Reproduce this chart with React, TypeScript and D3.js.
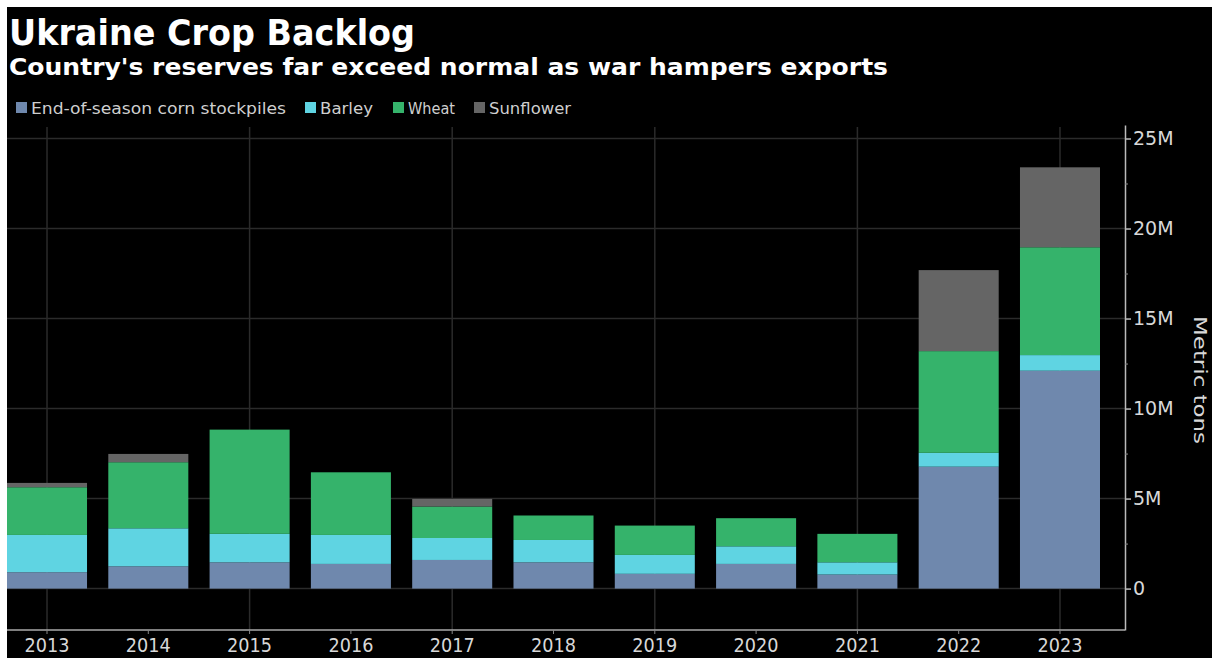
import React, { useEffect, useRef } from 'react';
import * as d3 from 'd3';

const years = ['2013', '2014', '2015', '2016', '2017', '2018', '2019', '2020', '2021', '2022', '2023'];
const corn = [0.91, 1.24, 1.46, 1.37, 1.59, 1.46, 0.82, 1.37, 0.78, 6.77, 12.1];
const barley = [2.07, 2.11, 1.58, 1.61, 1.22, 1.24, 1.05, 0.98, 0.68, 0.77, 0.87];
const wheat = [2.65, 3.67, 5.79, 3.48, 1.75, 1.36, 1.63, 1.56, 1.58, 5.65, 5.99];
const sunflower = [0.24, 0.46, 0, 0, 0.42, 0, 0, 0, 0, 4.5, 4.44];

const seriesKeys = ['corn', 'barley', 'wheat', 'sunflower'];
const seriesNames = ['End-of-season corn stockpiles', 'Barley', 'Wheat', 'Sunflower'];
const seriesColors = ['#6f88ad', '#5fd4e2', '#35b36b', '#656565'];

const yTicks = [0, 5, 10, 15, 20, 25];
const yTickLabels = ['0', '5M', '10M', '15M', '20M', '25M'];
const yMinorTicks = [2.5, 7.5, 12.5, 17.5, 22.5];
const gridYears = ['2013', '2015', '2017', '2019', '2021', '2023'];

const title = 'Ukraine Crop Backlog';
const subtitle = "Country's reserves far exceed normal as war hampers exports";
const axisTitle = 'Metric tons';

const W = 1212;
const H = 658;
const FONT = "'DejaVu Sans', sans-serif";

export default function App() {
  const ref = useRef<SVGSVGElement | null>(null);

  useEffect(() => {
    const svg = d3.select(ref.current);
    svg.selectAll('*').remove();

    svg.append('rect').attr('x', 0).attr('y', 0).attr('width', W).attr('height', H).attr('fill', '#ffffff');
    svg.append('rect').attr('x', 7).attr('y', 7).attr('width', W - 7).attr('height', H - 7).attr('fill', '#000000');

    // Titles
    svg.append('text').attr('x', 9).attr('y', 45).text(title)
      .attr('font-family', FONT).attr('font-weight', 'bold').attr('font-size', 35)
      .attr('fill', '#ffffff').attr('textLength', 406).attr('lengthAdjust', 'spacingAndGlyphs');
    svg.append('text').attr('x', 9).attr('y', 75).text(subtitle)
      .attr('font-family', FONT).attr('font-weight', 'bold').attr('font-size', 23)
      .attr('fill', '#ffffff').attr('textLength', 879).attr('lengthAdjust', 'spacingAndGlyphs');

    // Legend
    const legendSquareX = [16, 305, 393, 474];
    const legendTextLen = [255, 53, 47, 82];
    const lg = svg.append('g');
    seriesNames.forEach((name, i) => {
      lg.append('rect').attr('x', legendSquareX[i]).attr('y', 102).attr('width', 11).attr('height', 11)
        .attr('fill', seriesColors[i]);
      lg.append('text').attr('x', legendSquareX[i] + 15).attr('y', 114).text(name)
        .attr('font-family', FONT).attr('font-size', 16).attr('fill', '#cfcfcf')
        .attr('textLength', legendTextLen[i]).attr('lengthAdjust', 'spacingAndGlyphs');
    });

    const x = d3.scaleBand<string>().domain(years).range([7, 1100]).paddingInner(0.21).paddingOuter(0);
    const y = d3.scaleLinear().domain([-2.3, 25.75]).range([630, 125]);
    const axisX = 1125;

    // Gridlines
    const grid = svg.append('g');
    grid.selectAll('line.h').data(yTicks).join('line')
      .attr('x1', 7).attr('x2', axisX).attr('y1', (d) => y(d)).attr('y2', (d) => y(d))
      .attr('stroke', '#2b2b2b').attr('stroke-width', 1.5);
    grid.selectAll('line.v').data(gridYears).join('line')
      .attr('x1', (d) => (x(d) as number) + x.bandwidth() / 2).attr('x2', (d) => (x(d) as number) + x.bandwidth() / 2)
      .attr('y1', 127).attr('y2', 630)
      .attr('stroke', '#2b2b2b').attr('stroke-width', 1.5);

    // Bars
    const table = years.map((yr, i) => ({
      year: yr,
      corn: corn[i],
      barley: barley[i],
      wheat: wheat[i],
      sunflower: sunflower[i],
    }));
    const stacked = d3.stack<any>().keys(seriesKeys)(table);
    const bars = svg.append('g');
    stacked.forEach((layer, li) => {
      bars.append('g').attr('fill', seriesColors[li])
        .selectAll('rect').data(layer).join('rect')
        .attr('x', (d: any) => x(d.data.year) as number)
        .attr('width', x.bandwidth())
        .attr('y', (d: any) => y(d[1]))
        .attr('height', (d: any) => Math.max(0, y(d[0]) - y(d[1])));
    });

    // X axis
    svg.append('line').attr('x1', 7).attr('x2', axisX).attr('y1', 630).attr('y2', 630)
      .attr('stroke', '#aaaaaa').attr('stroke-width', 1.5);
    const xAxis = svg.append('g').attr('transform', 'translate(0,630)')
      .call(d3.axisBottom(x).tickSize(4).tickSizeOuter(0).tickPadding(4));
    xAxis.select('.domain').remove();
    xAxis.selectAll('line').attr('stroke', '#888888');
    xAxis.selectAll('text').attr('font-family', FONT).attr('font-size', 20).attr('fill', '#d8d8d8')
      .attr('textLength', 45).attr('lengthAdjust', 'spacingAndGlyphs');

    // Y axis (right)
    const yAxis = svg.append('g').attr('transform', `translate(${axisX},0)`)
      .call(d3.axisRight(y).tickValues(yTicks).tickFormat((d, i) => yTickLabels[i]).tickSize(6).tickSizeOuter(0).tickPadding(2));
    yAxis.select('.domain').attr('stroke', '#bbbbbb').attr('stroke-width', 1.5);
    yAxis.selectAll('line').attr('stroke', '#bbbbbb').attr('stroke-width', 1.5);
    yAxis.selectAll('text').attr('font-family', FONT).attr('font-size', 19).attr('fill', '#d8d8d8');
    const yMinor = svg.append('g').attr('transform', `translate(${axisX},0)`)
      .call(d3.axisRight(y).tickValues(yMinorTicks).tickFormat(() => '').tickSize(3).tickSizeOuter(0));
    yMinor.select('.domain').remove();
    yMinor.selectAll('line').attr('stroke', '#888888');

    svg.append('text').attr('transform', 'translate(1194,380) rotate(90)')
      .attr('text-anchor', 'middle').text(axisTitle)
      .attr('font-family', FONT).attr('font-size', 18).attr('fill', '#d8d8d8')
      .attr('textLength', 128).attr('lengthAdjust', 'spacingAndGlyphs');
  }, []);

  return (
    <div style={{ position: 'absolute', left: 0, top: 0 }}>
      <svg ref={ref} width={W} height={H} style={{ display: 'block' }} />
    </div>
  );
}
